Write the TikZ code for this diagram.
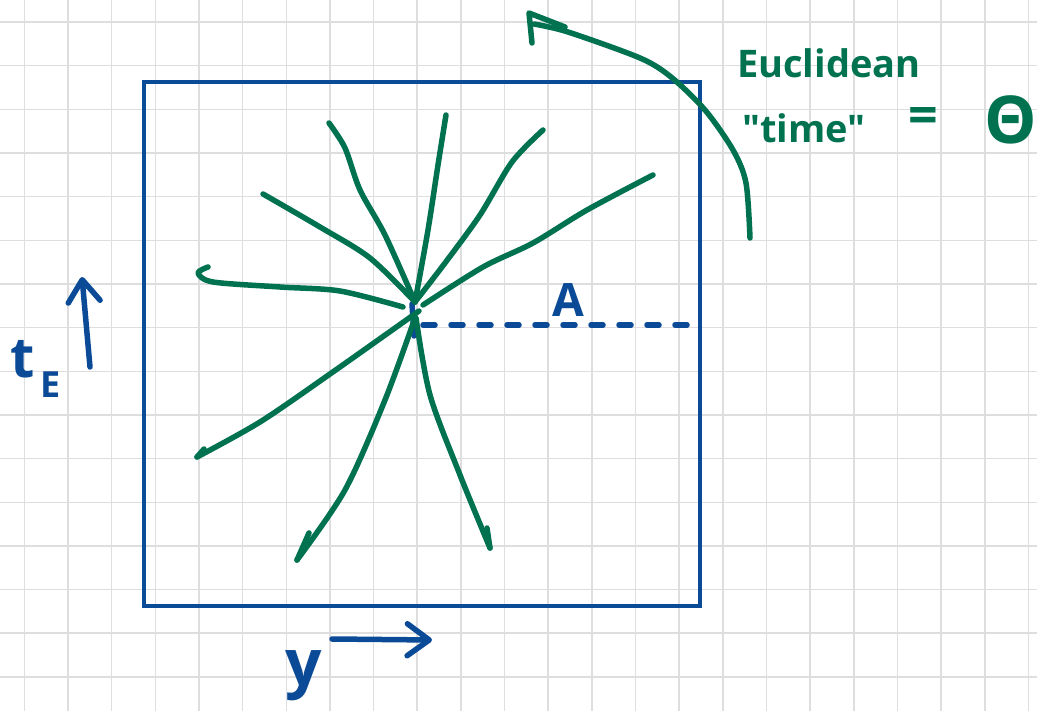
\documentclass[tikz,border=0pt]{standalone}
\usepackage{fontspec}
\setmainfont{Open Sans}
\usetikzlibrary{arrows.meta}
\definecolor{skGreen}{HTML}{00724F}
\definecolor{skBlue}{HTML}{0B4A96}
\definecolor{skGrid}{HTML}{DEDEDE}
\tikzset{
  gridline/.style  ={skGrid,line width=1.5pt},
  frame/.style     ={draw=skBlue,line width=4.5pt},
  ray/.style       ={skGreen,line width=5.5pt,line cap=round,line join=round},
  inkblue/.style   ={skBlue,line width=5.5pt,line cap=round,line join=round},
  dashline/.style  ={inkblue,dash pattern=on 12pt off 16pt},
  axisarrow/.style ={inkblue,-{Straight Barb[round,length=22pt,width=32pt]}},
  glbl/.style      ={text=skGreen,inner sep=0pt,font=\fontsize{38}{42}\selectfont\bfseries},
  blbl/.style      ={text=skBlue,inner sep=0pt},
}
\begin{document}
\begin{tikzpicture}[x=1pt,y=-1pt]
\useasboundingbox (0,0) rectangle (1037,711);
\clip (0,0) rectangle (1037,711);
\fill[white] (0,0) rectangle (1037,711);

% paper grid
\foreach \k in {0,...,23}
  \draw[gridline] ({24.3+43.66*\k},0) -- ({24.3+43.66*\k},711);
\foreach \k in {0,...,15}
  \draw[gridline] (0,{22+43.66*\k}) -- (1037,{22+43.66*\k});

% frame
\draw[frame] (144,82) rectangle (700,606);

% point where the rays meet, and the distance A
\coordinate (O) at (415,302);
\coordinate (Aend) at (687,325);
\draw[inkblue] (412,304) -- (414,336);
\draw[dashline] (423,325) -- (Aend);
\node[blbl,font=\fontsize{46}{50}\selectfont\bfseries] (Alab) at (568,300) {A};

% rays
\draw[ray] plot[smooth,tension=0.5] coordinates {(329,123) (345,148) (360,190) (385,235) (O)};
\draw[ray] plot[smooth,tension=0.5] coordinates {(446,115) (438,165) (428,230) (O)};
\draw[ray] plot[smooth,tension=0.5] coordinates {(543,130) (512,162) (480,215) (445,263) (O)};
\draw[ray] plot[smooth,tension=0.5] coordinates {(653,175) (587,210) (533,243) (483,267) (423,305)};
\draw[ray] plot[smooth,tension=0.5] coordinates {(263,194) (320,227) (370,258) (O)};
\draw[ray] plot[smooth,tension=0.5] coordinates {(208,267) (198,273) (213,282) (280,287) (340,291) (403,307)};
\draw[ray] plot[smooth,tension=0.5] coordinates {(419,311) (330,374) (260,422) (197,457)};
\draw[ray] (204,449) -- (197,457);
\draw[ray] plot[smooth,tension=0.5] coordinates {(415,318) (385,400) (345,490) (297,560)};
\draw[ray] (309,533) -- (297,560);
\draw[ray] plot[smooth,tension=0.5] coordinates {(416,318) (430,395) (460,475) (490,548)};
\draw[ray] (487,528) -- (490,548);

% Euclidean time circle
\coordinate (arcstart) at (750,238);
\coordinate (arctip) at (529,13);
\draw[ray] plot[smooth,tension=0.5] coordinates {(arcstart) (746,183) (733,150) (705,110) (671,77) (640,58) (568,32) (534,24)};
\draw[ray] (532,43) -- (arctip) -- (565,27);

\node[glbl,anchor=base west] (euclid) at (737,78) {Euclidean};
\node[glbl,anchor=base west] (timelbl) at (742,143) {\textquotedbl time\textquotedbl};
\node[glbl,font=\fontsize{52}{56}\selectfont\bfseries] (eqsign) at (923,121) {=};
\node[glbl,font=\fontsize{66}{70}\selectfont\bfseries,anchor=west] (theta) at (984,120) {Θ};

% axes
\coordinate (tEtail) at (90,367);
\coordinate (tEtip) at (82,277);
\draw[axisarrow] (tEtail) -- (tEtip);
\node[blbl,font=\fontsize{56}{60}\selectfont\bfseries,anchor=base west] (tElab) at (10,378)
  {t\hspace{6pt}\raisebox{-20pt}{\fontsize{36}{38}\selectfont\bfseries E}};

\coordinate (ytail) at (332,639);
\coordinate (ytip) at (432,640);
\draw[axisarrow] (ytail) -- (ytip);
\node[blbl,font=\fontsize{64}{68}\selectfont\bfseries,anchor=base west] (ylab) at (285,685) {y};
\end{tikzpicture}
\end{document}
